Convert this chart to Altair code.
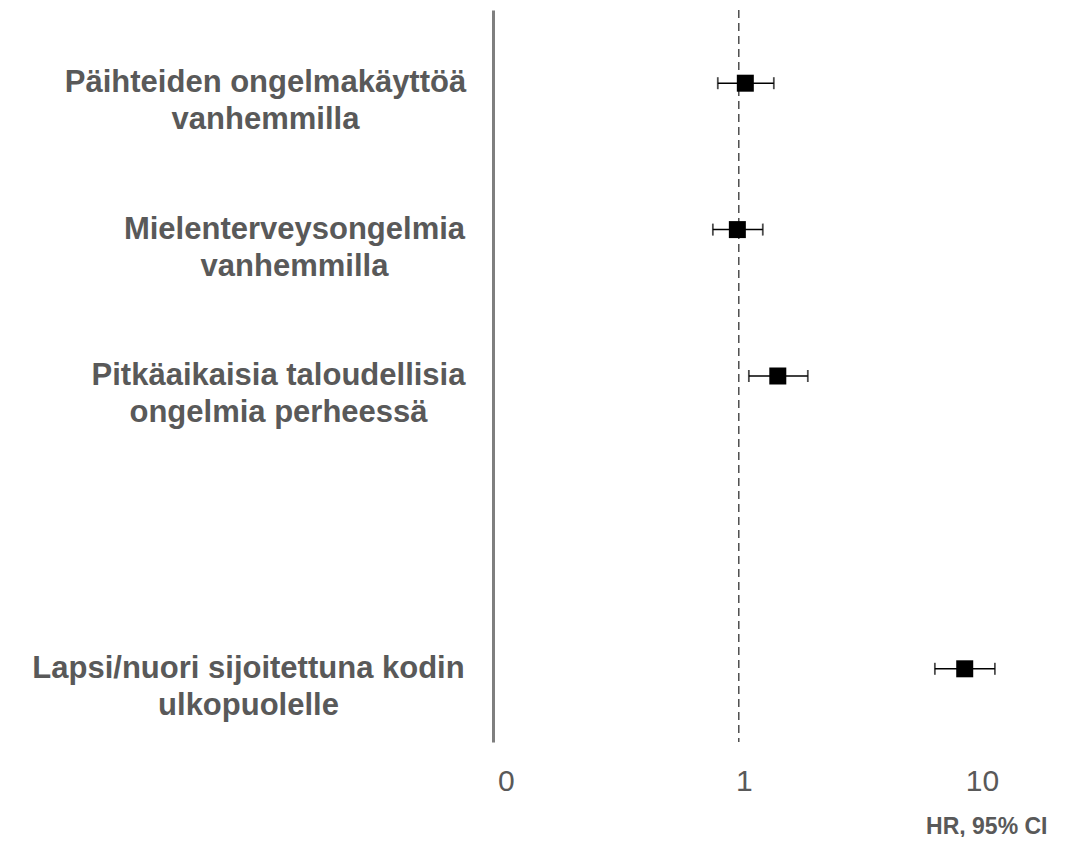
import altair as alt
import pandas as pd

# ---- data ----
categories = [
    "Päihteiden ongelmakäyttöä|vanhemmilla",
    "Mielenterveysongelmia|vanhemmilla",
    "Pitkäaikaisia taloudellisia|ongelmia perheessä",
    "Lapsi/nuori sijoitettuna kodin|ulkopuolelle",
]
hr = [1.065, 0.986, 1.458, 8.89]
ci_low = [0.816, 0.778, 1.102, 6.66]
ci_high = [1.403, 1.261, 1.949, 11.9]
row_order = [categories[0], categories[1], categories[2], " ", categories[3]]
tick_values = [0.1, 1, 10]
tick_labels = ["0", "1", "10"]
reference_value = [1]
x_title = "HR, 95% CI"

# ---- styling ----
label_pad = [228, 199, 215, 245]
GREY = "#595959"
FONT = "Liberation Sans"

df = pd.DataFrame({"cat": categories, "hr": hr, "lo": ci_low, "hi": ci_high})
ref_df = pd.DataFrame({"ref": reference_value})

x_scale = alt.Scale(type="log", domain=[0.0928, 19.7], nice=False, zero=False)
y_scale = alt.Scale(domain=row_order)

label_expr_x = " : ".join(
    [f"datum.value == {v} ? '{t}'" for v, t in zip(tick_values, tick_labels)] + ["''"]
)

pad_condition = {
    "condition": [
        {"test": f"datum.value === '{c}'", "value": p}
        for c, p in zip(categories, label_pad)
    ],
    "value": 210,
}

x_axis = alt.Axis(
    values=tick_values,
    labelExpr=label_expr_x,
    domain=False,
    ticks=False,
    tickSize=0,
    grid=False,
    labelFontSize=30,
    labelColor=GREY,
    labelFont=FONT,
    labelPadding=24,
    labelOffset=5,
    labelFlush=False,
    title=x_title,
    titleFontSize=23,
    titleFontWeight="bold",
    titleColor=GREY,
    titleFont=FONT,
    titleAlign="right",
    titleAnchor="end",
    titleX=554,
    titleY=91,
    titleBaseline="alphabetic",
)

y_axis = alt.Axis(
    title=None,
    domainColor="#7f7f7f",
    domainWidth=3,
    ticks=False,
    tickSize=0,
    grid=False,
    labelExpr="split(datum.label, '|')",
    labelFont=FONT,
    labelFontSize=31,
    labelFontWeight="bold",
    labelColor=GREY,
    labelAlign="center",
    labelBaseline="middle",
    labelLineHeight=37,
    labelLimit=0,
    labelPadding=pad_condition,
)

base = alt.Chart(df)

ci = base.mark_rule(color="black", strokeWidth=1.5).encode(
    x=alt.X("lo:Q", scale=x_scale, axis=x_axis),
    x2="hi:Q",
    y=alt.Y("cat:N", scale=y_scale, axis=y_axis, sort=row_order),
)
cap_lo = base.mark_tick(color="black", thickness=1.8, size=12).encode(
    x=alt.X("lo:Q", scale=x_scale),
    y=alt.Y("cat:N", scale=y_scale, sort=row_order),
)
cap_hi = base.mark_tick(color="black", thickness=1.8, size=12).encode(
    x=alt.X("hi:Q", scale=x_scale),
    y=alt.Y("cat:N", scale=y_scale, sort=row_order),
)
squares = base.mark_square(color="black", size=289, opacity=1).encode(
    x=alt.X("hr:Q", scale=x_scale),
    y=alt.Y("cat:N", scale=y_scale, sort=row_order),
)
ref_line = alt.Chart(ref_df).mark_rule(
    color="#333333", strokeWidth=1.3, strokeDash=[8, 5]
).encode(x=alt.X("ref:Q", scale=x_scale))

chart = (
    alt.layer(ref_line, ci, cap_lo, cap_hi, squares)
    .properties(
        width=554,
        height=732,
        autosize=alt.AutoSizeParams(type="none"),
        padding={"left": 485, "top": 2, "right": 20, "bottom": 95},
    )
    .configure(font=FONT)
    .configure_view(stroke="transparent", strokeWidth=0)
)

chart.save("out.html", embed_options={"renderer": "svg", "actions": False})
